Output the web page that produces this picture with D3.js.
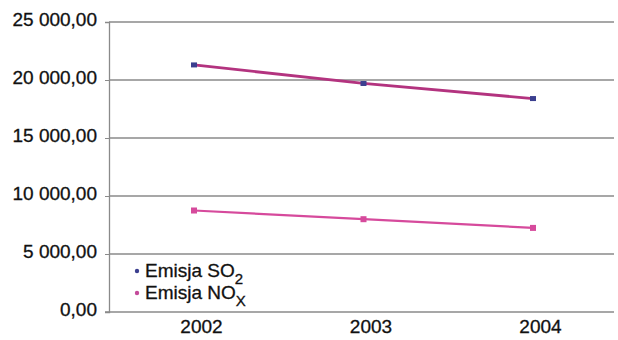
<!DOCTYPE html>
<html>
<head>
<meta charset="utf-8">
<script src="https://cdn.jsdelivr.net/npm/d3@7"></script>
<style>
  html, body { margin: 0; padding: 0; background: #fff; }
  svg { display: block; }
  text { font-family: "Liberation Sans", Arial, sans-serif; fill: #111; }
</style>
</head>
<body>
<svg id="chart" width="618" height="340"></svg>
<script>
// Emission data, years 2002-2004
const years = ["2002", "2003", "2004"];
const so2 = [21300, 19700, 18400];
const nox = [8750, 8000, 7250];
const yTicks = [0, 5000, 10000, 15000, 20000, 25000];

const svg = d3.select("#chart");
const margin = { left: 109, right: 3, top: 22, bottom: 28 };
const W = 618, H = 340;
const FS = 19;

const x = d3.scalePoint().domain(years).range([margin.left + 85, W - margin.right - 82]);
const y = d3.scaleLinear().domain([0, 25000]).range([H - margin.bottom, margin.top]);

// Polish number format: space thousands, comma decimals
const fmt = v => {
  const s = d3.format(",.2f")(v);
  return s.replace(/,/g, " ").replace(".", ",");
};

// horizontal gridlines
svg.append("g")
  .selectAll("line")
  .data(yTicks.filter(d => d > 0))
  .join("line")
  .attr("x1", margin.left).attr("x2", 614)
  .attr("y1", d => y(d)).attr("y2", d => y(d))
  .attr("stroke", "#8a8a8a").attr("stroke-width", 1.3);

// y axis
const yAxis = svg.append("g")
  .attr("transform", `translate(${margin.left},0)`)
  .call(d3.axisLeft(y).tickValues(yTicks).tickFormat(fmt).tickSize(4).tickPadding(8));
yAxis.select(".domain").attr("stroke", "#8a8a8a").attr("stroke-width", 1.3);
yAxis.selectAll(".tick line").attr("stroke", "#8a8a8a");
yAxis.selectAll(".tick text")
  .attr("font-size", FS)
  .attr("dy", "0.2em")
  .style("font-family", "'Liberation Sans', Arial, sans-serif")
  .attr("fill", "#111")
  .attr("stroke", "#111").attr("stroke-width", 0.3);

// x axis
const xAxis = svg.append("g")
  .attr("transform", `translate(0,${y(0)})`)
  .call(d3.axisBottom(x).tickSize(0).tickPadding(8));
xAxis.select(".domain").remove();
xAxis.append("line")
  .attr("x1", margin.left - 4).attr("x2", 614)
  .attr("stroke", "#8a8a8a").attr("stroke-width", 1.3);
xAxis.selectAll(".tick text")
  .attr("font-size", FS)
  .attr("dx", 7)
  .style("font-family", "'Liberation Sans', Arial, sans-serif")
  .attr("fill", "#111")
  .attr("stroke", "#111").attr("stroke-width", 0.3);

const line = d3.line().x((d, i) => x(years[i])).y(d => y(d));

// NOx series
svg.append("path").datum(nox)
  .attr("d", line).attr("fill", "none")
  .attr("stroke", "#d64a9c").attr("stroke-width", 2.2);
svg.append("g").selectAll("rect").data(nox).join("rect")
  .attr("x", (d, i) => x(years[i]) - 3).attr("y", d => y(d) - 3)
  .attr("width", 6).attr("height", 6).attr("fill", "#d64a9c");

// SO2 series
svg.append("path").datum(so2)
  .attr("d", line).attr("fill", "none")
  .attr("stroke", "#b3337f").attr("stroke-width", 2.8);
svg.append("g").selectAll("rect").data(so2).join("rect")
  .attr("x", (d, i) => x(years[i]) - 3).attr("y", d => y(d) - 2.5)
  .attr("width", 6).attr("height", 5).attr("fill", "#3b3f8f");

// legend
const legend = svg.append("g").attr("transform", "translate(137,0)");
const items = [
  { name: "Emisja SO", sub: "2", color: "#3b3f8f", y: 270 },
  { name: "Emisja NO", sub: "X", color: "#c44a9a", y: 292 }
];
items.forEach(it => {
  legend.append("circle").attr("cx", 0).attr("cy", it.y + 1).attr("r", 2.2).attr("fill", it.color);
  const t = legend.append("text").attr("x", 8).attr("y", it.y + 7)
    .attr("font-size", FS).attr("stroke", "#111").attr("stroke-width", 0.3);
  t.append("tspan").text(it.name);
  t.append("tspan").attr("dy", 7).attr("font-size", 15).text(it.sub);
});
</script>
</body>
</html>
